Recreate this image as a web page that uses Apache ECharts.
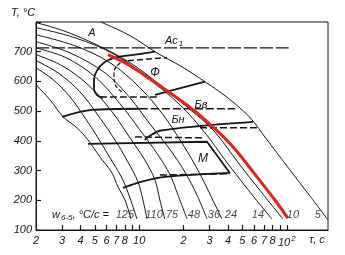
<!DOCTYPE html>
<html><head><meta charset="utf-8">
<script src="https://cdn.jsdelivr.net/npm/echarts@6/dist/echarts.min.js"></script>
<style>html,body{margin:0;padding:0;background:#fff}#c{width:345px;height:255px}</style>
</head><body><div id="c"></div>
<script>
// cooling curves: [time s, temperature °C]
const curve125 = [[2.0,589],[2.49,538],[3.05,481],[3.79,444],[4.5,403],[5.42,346],[6.54,292],[7.18,245],[8.01,201],[8.79,137]];
const curveX   = [[2.0,646],[2.61,606],[3.4,548],[4.3,477],[5.26,410],[6.34,343],[7.64,275],[8.66,208],[9.66,137]];
const curve110 = [[2.0,670],[2.82,629],[3.97,565],[5.42,477],[6.85,403],[8.39,329],[9.81,262],[10.6,201],[11.3,137]];
const curve75  = [[2.0,690],[3.0,653],[4.5,589],[6.54,498],[8.66,410],[10.9,336],[12.8,268],[13.8,201],[14.9,137]];
const curve48  = [[2.0,713],[3.19,680],[5.01,616],[7.41,525],[10.1,437],[13.4,353],[16.2,285],[18.3,218],[21.1,137]];
const curve36  = [[2.0,734],[3.4,696],[5.86,629],[8.66,545],[11.8,457],[16.2,370],[20.4,295],[24.6,218],[28.8,137]];
const curve24  = [[2.0,757],[3.67,720],[6.34,663],[10.1,579],[14.5,488],[18.9,403],[23.9,319],[29.2,235],[36.3,137]];
const curve14  = [[2.0,781],[3.67,747],[6.85,690],[11.8,606],[18.9,521],[27.9,427],[38.1,336],[56.2,228],[79.2,137]];
const curve10  = [[2.0,798],[3.05,771],[5.17,723],[8.66,663],[13.8,589],[21.4,511],[31.6,437],[48.1,319],[67.8,225],[94.0,137]];
const curve5   = [[5.5,800],[8.66,754],[13.2,696],[19.5,649],[27.9,599],[38.1,552],[48.1,511],[58.0,471],[71.0,413],[105,302],[143,215],[190,134]];
const curveRed = [[6.14,690],[8.66,653],[13.2,592],[21.4,518],[31.6,447],[43.1,380],[62.7,279],[83.0,201],[101.6,140]];
// transformation boundaries
const ferriteC     = [[12.8,700],[9.36,690],[6.85,680],[5.77,663],[5.17,636],[4.94,606],[4.94,575],[5.17,555],[5.69,545]];
const ferriteCIn   = [[8.13,670],[7.18,656],[6.75,626],[6.85,592],[7.64,565]];
const ferriteTopD  = [[8.39,670],[15.4,680]];
const line550D     = [[5.42,548],[13.8,548]];
const lineFB       = [[12.8,555],[27.9,599]];
const line500      = [[3.0,481],[4.79,504],[10.1,508]];
const line500D     = [[10.1,508],[44.5,508]];
const lineBn       = [[10.9,403],[11.8,417],[13.8,434],[25.8,450],[58.9,464]];
const lineBnD1     = [[25.8,444],[62.7,444]];
const lineBnD2     = [[9.36,413],[27.9,410]];
const line400      = [[4.5,390],[28.8,397],[41.1,292]];
const lineMs       = [[7.76,242],[10.9,265],[14.9,279],[41.1,292]];
const lineMsD      = [[13.8,285],[39.9,289]];
const ac1Line      = [[2.0,713],[103,713]];
// ticks and labels
const xTickValues  = [3,4,5,6,7,8,9,10,20,30,40,50,60,70,80,90,100];
const xLabelValues = [2,3,4,5,6,7,8,10,20,30,40,50,60,70,80,100];
const xLabelTexts  = ['2','3','4','5','6','7','8','10','2','3','4','5','6','7','8','10²'];
const rateLabels     = ['125','110','75','48','36','24','14','10','5'];
const rateLabelTimes = [8.0,12.6,16.7,23.5,32.1,41.8,63.7,110,162];
const rateLabelTemp  = 151;

const lg = v => Math.log10(v);
const pts = a => a.map(p => [lg(p[0]), p[1]]);
const FONT = '"Liberation Sans", Arial, sans-serif';
const INK = '#151515';

function ln(data, width, type, smooth, color, z) {
  return {type:'line', data: pts(data), symbol:'none', smooth: smooth, silent:true,
    lineStyle:{color: color || INK, width: width, type: type || 'solid'}, z: z || 2};
}

const series = [
  ln(curve125,1,'solid',0.35), ln(curveX,1,'solid',0.35), ln(curve110,1,'solid',0.35),
  ln(curve75,1,'solid',0.35), ln(curve48,1,'solid',0.35), ln(curve36,1,'solid',0.35),
  ln(curve24,1,'solid',0.35), ln(curve14,1,'solid',0.35), ln(curve10,1,'solid',0.35),
  ln(curve5,1,'solid',0.35),
  ln(ferriteC,1.8,'solid',0.45), ln(ferriteCIn,1.2,[4,2],0.45),
  ln(ferriteTopD,1.5,[6,3],false), ln(line550D,1.5,[7,3],false),
  ln(lineFB,1.8,'solid',false), ln(line500,1.8,'solid',0.3), ln(line500D,1.5,[8,3],false),
  ln(lineBn,1.8,'solid',0.3), ln(lineBnD1,1.5,[7,3],false), ln(lineBnD2,1.5,[7,3],false),
  ln(line400,1.8,'solid',false), ln(lineMs,1.8,'solid',0.3), ln(lineMsD,1.5,[7,3],false),
  ln(ac1Line,1.3,[13,3],false),
  ln(curveRed,3,'solid',0.35,'#e2231a',5),
  {type:'scatter', symbolSize:0, silent:true, z:6,
   data: rateLabels.map((r,i) => ({value:[lg(rateLabelTimes[i]), rateLabelTemp], name:r})),
   label:{show:true, position:'inside', formatter: p => p.name, color: INK,
     fontFamily: FONT, fontStyle:'italic', fontSize: 11}}
];

const chart = echarts.init(document.getElementById('c'), null, {renderer:'canvas'});
const txt = (t, x, y, size, extra) => Object.assign({type:'text', x:x, y:y, silent:true, z:10,
  style:{text:t, font:'italic ' + size + 'px ' + FONT, fill: INK, align:'center', verticalAlign:'middle',
         textAlign:'center', textVerticalAlign:'middle'}}, extra || {});

chart.setOption({
  animation:false,
  backgroundColor:'#ffffff',
  grid:{left:36, right:17, top:22, bottom:25, show:true, borderColor:INK, borderWidth:1, outerBoundsMode:'none'},
  xAxis:{type:'value', min: lg(2), max: lg(190),
    axisLine:{show:true, lineStyle:{color:INK, width:1}},
    splitLine:{show:false},
    axisTick:{show:true, inside:true, length:5, lineStyle:{color:INK, width:1.2}, customValues: xTickValues.map(lg)},
    axisLabel:{customValues: xLabelValues.map(lg), margin:5, color:INK, fontFamily:FONT, fontStyle:'italic', fontSize:11,
      formatter: v => { const i = xLabelValues.findIndex(q => Math.abs(lg(q) - v) < 1e-6);
        if (i < 0) return ''; const s = xLabelTexts[i];
        return s === '10²' ? '{n|10}{s|2}' : s; },
      rich:{n:{fontFamily:FONT, fontStyle:'italic', fontSize:11, color:INK},
            s:{fontFamily:FONT, fontStyle:'italic', fontSize:8, color:INK, padding:[0,0,7,1]}}}
  },
  yAxis:{type:'value', min:100, max:800, interval:100,
    axisLine:{show:true, lineStyle:{color:INK, width:1}},
    splitLine:{show:false},
    axisTick:{show:true, inside:true, length:5, lineStyle:{color:INK, width:1.2}},
    axisLabel:{margin:4, color:INK, fontFamily:FONT, fontStyle:'italic', fontSize:11,
      formatter: v => v === 800 ? '' : String(v)}
  },
  graphic:[
    txt('T, °C', 23, 13, 11),
    txt('τ, c', 317, 240, 11),
    txt('A', 92, 33, 11),
    {type:'text', x:165, y:34, silent:true, z:10,
     style:{text:'{a|Ac}{b|1}', rich:{a:{font:'italic 11px ' + FONT, fill:INK, color:INK},
       b:{font:'italic 8px ' + FONT, fill:INK, color:INK, padding:[6,0,0,1]}}}},
    txt('Ф', 155, 73, 12),
    txt('Бв', 201, 105, 11),
    txt('Бн', 178, 120, 11),
    txt('М', 203, 159, 12),
    {type:'text', x:52, y:208, silent:true, z:10,
     style:{text:'{a|w}{b|6-5}{a|, °C/c =}', rich:{a:{font:'italic 11px ' + FONT, fill:INK, color:INK},
       b:{font:'italic 8px ' + FONT, fill:INK, color:INK, padding:[6,0,0,1]}}}}
  ],
  series: series
});
</script></body></html>
